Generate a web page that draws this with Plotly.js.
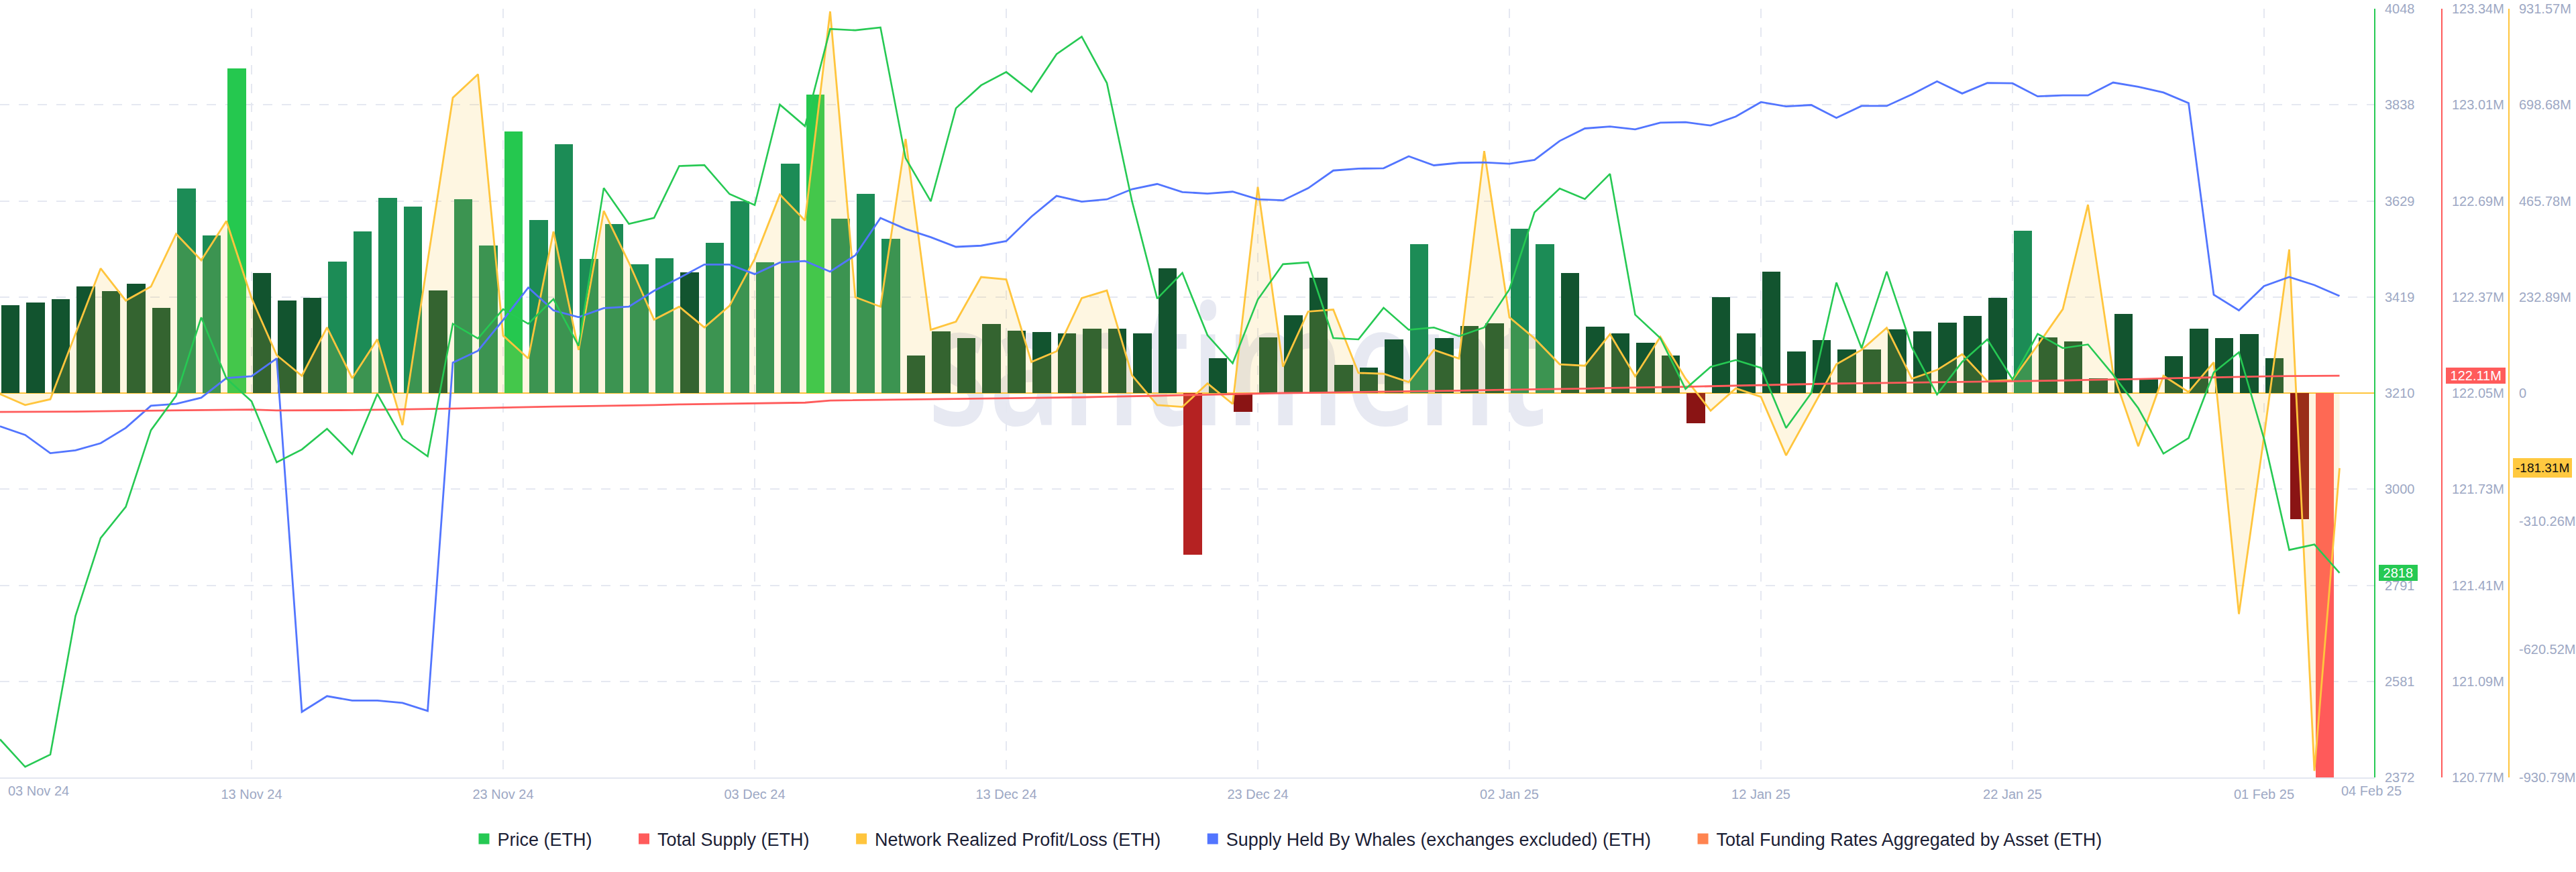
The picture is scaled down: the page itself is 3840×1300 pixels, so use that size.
<!DOCTYPE html>
<html>
<head>
<meta charset="utf-8">
<script src="https://cdn.plot.ly/plotly-3.0.1.min.js"></script>
<style>
  html, body { margin: 0; padding: 0; background: #ffffff; }
  #wm { position: absolute; left: 0; top: 0; z-index: 0; }
  #chart { position: absolute; left: 0; top: 0; width: 3840px; height: 1300px; z-index: 1; }
</style>
</head>
<body>
<svg id="wm" width="3840" height="1300" xmlns="http://www.w3.org/2000/svg">
  <text x="1383" y="634" font-family="Open Sans, Noto Sans, sans-serif" font-weight="600" font-size="250" fill="#e7e9f2" textLength="922" lengthAdjust="spacingAndGlyphs">santiment</text>
</svg>
<div id="chart"></div>
<script>
// ---------- DATA (daily, 03 Nov 2024 -> 04 Feb 2025) ----------
const startDay = [2024, 10, 3];   // 03 Nov 2024 (month is 0-based)
const dayCount = 94;

// Price (ETH), USD
const price = [
  2455, 2395, 2422, 2724, 2894, 2962, 3129, 3204, 3375, 3242,
  3192, 3059, 3087, 3132, 3077, 3208, 3111, 3072, 3361, 3329,
  3393, 3361, 3415, 3313, 3657, 3579, 3592, 3705, 3707, 3644,
  3620, 3839, 3792, 4004, 4001, 4007, 3722, 3628, 3831, 3881,
  3910, 3867, 3949, 3987, 3886, 3628, 3416, 3472, 3336, 3275,
  3414, 3491, 3495, 3330, 3327, 3396, 3348, 3353, 3334, 3353,
  3436, 3604, 3656, 3633, 3688, 3381, 3330, 3219, 3267, 3282,
  3265, 3134, 3210, 3451, 3308, 3475, 3310, 3207, 3278, 3327,
  3240, 3339, 3308, 3316, 3250, 3177, 3078, 3112, 3255, 3299,
  3110, 2868, 2880, 2818
];

// Total Supply (ETH), millions
const totalSupply = [
  121.992, 121.992, 121.993, 121.993, 121.994, 121.995, 121.996, 121.997, 121.998, 121.999,
  122.000, 121.997, 121.997, 121.997, 121.998, 121.999, 122.000, 122.002, 122.003, 122.005,
  122.007, 122.008, 122.010, 122.011, 122.012, 122.014, 122.015, 122.017, 122.018, 122.019,
  122.021, 122.022, 122.023, 122.030, 122.031, 122.032, 122.033, 122.034, 122.035, 122.036,
  122.037, 122.039, 122.040, 122.041, 122.043, 122.044, 122.046, 122.048, 122.050, 122.052,
  122.054, 122.055, 122.056, 122.057, 122.058, 122.059, 122.061, 122.062, 122.063, 122.065,
  122.066, 122.067, 122.069, 122.070, 122.072, 122.073, 122.075, 122.076, 122.078, 122.080,
  122.082, 122.084, 122.086, 122.087, 122.088, 122.089, 122.090, 122.091, 122.092, 122.093,
  122.094, 122.096, 122.097, 122.099, 122.100, 122.102, 122.104, 122.106, 122.108, 122.110,
  122.111, 122.112, 122.112, 122.113
];

// Network Realized Profit/Loss (ETH), millions
const nrpl = [
  -2, -28.6, -14.6, 143.2, 302.4, 224.5, 258.3, 386.0, 322.1, 417.3,
  230.4, 92.2, 42.3, 159.5, 36.4, 130.6, -77.4, 320.0, 715.8, 772.8,
  139.8, 84.1, 391.8, 105.0, 441.7, 316.4, 178.2, 209.7, 159.5, 211.8,
  325.6, 481.2, 418.5, 925.0, 232.7, 209.7, 616.2, 153.8, 173.5, 281.4,
  275.7, 75.9, 101.5, 230.4, 248.9, 43.4, -28.6, -33.2, 23.7, -26.0,
  499.8, 64.4, 197.9, 202.6, 49.3, 47.1, 27.2, 105.0, 84.1, 586.9,
  183.9, 132.8, 70.1, 66.7, 143.2, 41.1, 136.6, 35.8, -42.3, 12.0,
  -8.8, -150.5, -40.2, 70.1, 105.0, 158.4, 35.3, 56.3, 94.5, 29.4,
  31.9, 116.6, 203.7, 456.9, 48.8, -128.4, 42.3, 2.8, 74.8, -535.0,
  -104.0, 348.4, -915.0, -181.31
];

// Supply Held By Whales (exchanges excluded) (ETH), millions
const whales = [
  41.827, 41.782, 41.687, 41.702, 41.739, 41.819, 41.934, 41.944, 41.976, 42.078,
  42.088, 42.180, 40.341, 40.423, 40.400, 40.400, 40.388, 40.346, 42.158, 42.220,
  42.380, 42.549, 42.430, 42.395, 42.442, 42.450, 42.532, 42.599, 42.669, 42.669,
  42.619, 42.679, 42.687, 42.632, 42.717, 42.911, 42.854, 42.811, 42.761, 42.767,
  42.791, 42.918, 43.026, 42.996, 43.008, 43.061, 43.088, 43.046, 43.038, 43.048,
  43.008, 43.003, 43.066, 43.158, 43.168, 43.170, 43.232, 43.185, 43.198, 43.200,
  43.193, 43.213, 43.312, 43.377, 43.387, 43.372, 43.407, 43.410, 43.392, 43.439,
  43.514, 43.492, 43.499, 43.432, 43.494, 43.494, 43.554, 43.622, 43.559, 43.614,
  43.612, 43.544, 43.549, 43.549, 43.616, 43.594, 43.564, 43.509, 42.512, 42.430,
  42.557, 42.604, 42.562, 42.505
];

// Total Funding Rates Aggregated by Asset (ETH)
const funding = [
  0.0686, 0.0705, 0.0735, 0.0832, 0.0798, 0.0854, 0.0663, 0.1599, 0.1232, 0.2534,
  0.0937, 0.0723, 0.0746, 0.1026, 0.1262, 0.1524, 0.1456, 0.0802, 0.1513, 0.1153,
  0.2044, 0.1351, 0.1943, 0.1049, 0.1318, 0.1004, 0.1052, 0.0940, 0.1172, 0.1497,
  0.1019, 0.1793, 0.2328, 0.1363, 0.1554, 0.1206, 0.0293, 0.0480, 0.0431, 0.0540,
  0.0487, 0.0476, 0.0465, 0.0503, 0.0503, 0.0465, 0.0974, -0.1262, 0.0271, -0.0148,
  0.0435, 0.0607, 0.0899, 0.0218, 0.0199, 0.0417, 0.1164, 0.0428, 0.0525, 0.0544,
  0.1281, 0.1164, 0.0937, 0.0518, 0.0465, 0.0394, 0.0293, -0.0238, 0.0749, 0.0465,
  0.0948, 0.0327, 0.0413, 0.0342, 0.0342, 0.0499, 0.0480, 0.0551, 0.0604, 0.0746,
  0.1266, 0.0435, 0.0402, 0.0114, 0.0618, 0.0114, 0.0290, 0.0503, 0.0428, 0.0461,
  0.0274, -0.0984, -0.3000, null
];

// Axis ticks
const xTickDates = ['2024-11-03','2024-11-13','2024-11-23','2024-12-03','2024-12-13','2024-12-23','2025-01-02','2025-01-12','2025-01-22','2025-02-01'];
const xTickLabels = ['', '13 Nov 24', '23 Nov 24', '03 Dec 24', '13 Dec 24', '23 Dec 24', '02 Jan 25', '12 Jan 25', '22 Jan 25', '01 Feb 25'];
const xEdgeLabels = ['03 Nov 24', '04 Feb 25'];

const priceTickVals = [4048, 3838.5, 3629, 3419.5, 3210, 3000.5, 2791, 2581.5, 2372];
const priceTickText = ['4048', '3838', '3629', '3419', '3210', '3000', '2791', '2581', '2372'];
const supplyTickVals = [123.34, 123.01875, 122.6975, 122.37625, 122.055, 121.73375, 121.4125, 121.09125, 120.77];
const supplyTickText = ['123.34M', '123.01M', '122.69M', '122.37M', '122.05M', '121.73M', '121.41M', '121.09M', '120.77M'];
const nrplTickVals = [931.57, 698.6775, 465.785, 232.8925, 0, -310.2633, -620.5267, -930.79];
const nrplTickText = ['931.57M', '698.68M', '465.78M', '232.89M', '0', '-310.26M', '-620.52M', '-930.79M'];
const gridVals = [-0.3, -0.225, -0.15, -0.075, 0, 0.075, 0.15, 0.225, 0.3];

const seriesNames = ['Price (ETH)', 'Total Supply (ETH)', 'Network Realized Profit/Loss (ETH)', 'Supply Held By Whales (exchanges excluded) (ETH)', 'Total Funding Rates Aggregated by Asset (ETH)'];

// ---------- STYLE ----------
const C = {
  price: '#26c953', supply: '#ff5b5b', nrpl: '#ffc53d', whales: '#5275ff', funding: '#ff8450',
  grid: '#e5e8f1', tick: '#9da8c4', legendText: '#1b2035'
};
const DAY = 86400000;
const FONT = 'Liberation Sans, Arial, sans-serif';
const tickFont = { family: FONT, size: 20, color: C.tick };
const NB = '\u00a0';

const dates = [];
for (let i = 0; i < dayCount; i++) {
  const d = new Date(Date.UTC(startDay[0], startDay[1], startDay[2] + i));
  dates.push(d.toISOString().slice(0, 10));
}

const FUND_RANGE = 0.3;
function barColor(v) {
  if (v === null) return 'rgba(0,0,0,0)';
  const a = Math.abs(v) / FUND_RANGE;
  if (v >= 0) return a < 1/3 ? '#12542f' : (a < 2/3 ? '#1c8c56' : '#25c84f');
  return a < 1/3 ? '#8a1414' : (a < 2/3 ? '#b52222' : '#ff5a5a');
}

const traces = [
  { // funding bars (base axis)
    type: 'bar', x: dates, y: funding, xaxis: 'x', yaxis: 'y',
    offset: 0.04 * DAY, width: 0.745 * DAY,
    marker: { color: funding.map(barColor), line: { width: 0 } },
    showlegend: false, hoverinfo: 'skip'
  },
  { // NRPL
    type: 'scatter', mode: 'lines', x: dates, y: nrpl, xaxis: 'x', yaxis: 'y2',
    fill: 'tozeroy', fillcolor: 'rgba(249,196,55,0.15)',
    line: { color: C.nrpl, width: 2.8 }, showlegend: false, hoverinfo: 'skip'
  },
  { // whales
    type: 'scatter', mode: 'lines', x: dates, y: whales, xaxis: 'x', yaxis: 'y3',
    line: { color: C.whales, width: 2.8 }, showlegend: false, hoverinfo: 'skip'
  },
  { // total supply
    type: 'scatter', mode: 'lines', x: dates, y: totalSupply, xaxis: 'x', yaxis: 'y4',
    line: { color: C.supply, width: 2.8 }, showlegend: false, hoverinfo: 'skip'
  },
  { // price
    type: 'scatter', mode: 'lines', x: dates, y: price, xaxis: 'x', yaxis: 'y5',
    line: { color: C.price, width: 2.6 }, showlegend: false, hoverinfo: 'skip'
  }
];

// legend-only entries (square swatches)
const legendColors = [C.price, C.supply, C.nrpl, C.whales, C.funding];
const legendPad = NB.repeat(7);
seriesNames.forEach((n, i) => {
  traces.push({
    type: 'scatter', mode: 'markers', x: [null], y: [null], xaxis: 'x', yaxis: 'y',
    name: i < seriesNames.length - 1 ? n + legendPad : n,
    marker: { symbol: 'square', size: 16, color: legendColors[i] },
    showlegend: true, hoverinfo: 'skip'
  });
});

const W = 3840, PLOT_R = 3540;
const labelY = -0.0175;
const tagFont = (col, s) => ({ family: FONT, size: s || 20, color: col });

const layout = {
  width: 3840, height: 1300,
  margin: { l: 0, r: 0, t: 13, b: 141, pad: 0 },
  paper_bgcolor: 'rgba(0,0,0,0)', plot_bgcolor: 'rgba(0,0,0,0)',
  showlegend: true,
  legend: {
    orientation: 'h', x: 0.5, xanchor: 'center', y: -0.0803, yanchor: 'middle',
    font: { family: FONT, size: 27, color: C.legendText },
    itemclick: false, itemdoubleclick: false, bgcolor: 'rgba(0,0,0,0)'
  },
  xaxis: {
    type: 'date', domain: [0, PLOT_R / W],
    range: ['2024-11-03 00:00:00', '2025-02-05 09:36:00'],
    tickmode: 'array', tickvals: xTickDates, ticktext: xTickLabels,
    showgrid: true, gridcolor: C.grid, gridwidth: 2, griddash: '14px,14px',
    showline: true, linecolor: '#e3e7f0', linewidth: 2,
    zeroline: false, ticks: '', tickfont: tickFont, ticklabelstandoff: 6,
    automargin: false, fixedrange: true
  },
  yaxis: {
    range: [-FUND_RANGE, FUND_RANGE], tickmode: 'array', tickvals: gridVals,
    showticklabels: false, showgrid: true, gridcolor: C.grid, gridwidth: 2, griddash: '14px,14px',
    zeroline: false, showline: false, ticks: '', automargin: false, fixedrange: true
  },
  yaxis2: {
    overlaying: 'y', side: 'right', anchor: 'free', position: 3740 / W,
    range: [-930.79, 931.57], tickmode: 'array', tickvals: nrplTickVals, ticktext: nrplTickText,
    showgrid: false, zeroline: true, zerolinecolor: C.nrpl, zerolinewidth: 1.5,
    showline: true, linecolor: C.nrpl, linewidth: 2,
    ticks: '', tickfont: tickFont, ticklabelstandoff: 10, automargin: false, fixedrange: true
  },
  yaxis3: {
    overlaying: 'y', side: 'right', anchor: 'free', position: 0.5,
    range: [40, 44], visible: false, showgrid: false, zeroline: false, fixedrange: true
  },
  yaxis4: {
    overlaying: 'y', side: 'right', anchor: 'free', position: 3640 / W,
    range: [120.77, 123.34], tickmode: 'array', tickvals: supplyTickVals, ticktext: supplyTickText,
    showgrid: false, zeroline: false, showline: true, linecolor: C.supply, linewidth: 2,
    ticks: '', tickfont: tickFont, ticklabelstandoff: 10, automargin: false, fixedrange: true
  },
  yaxis5: {
    overlaying: 'y', side: 'right', anchor: 'free', position: PLOT_R / W,
    range: [2372, 4048], tickmode: 'array', tickvals: priceTickVals, ticktext: priceTickText,
    showgrid: false, zeroline: false, showline: true, linecolor: C.price, linewidth: 2,
    ticks: '', tickfont: tickFont, ticklabelstandoff: 10, automargin: false, fixedrange: true
  },
  annotations: [
    { text: xEdgeLabels[0], xref: 'paper', x: 0, xanchor: 'left', xshift: 10,
      yref: 'paper', y: labelY, yanchor: 'middle', showarrow: false, font: tickFont },
    { text: xEdgeLabels[1], xref: 'x', x: dates[dayCount - 1], xanchor: 'left',
      yref: 'paper', y: labelY, yanchor: 'middle', showarrow: false, font: tickFont },
    { text: NB + String(price[dayCount - 1]) + NB, xref: 'paper', x: 3546 / W, xanchor: 'left',
      yref: 'y5', y: price[dayCount - 1], yanchor: 'middle', showarrow: false,
      bgcolor: C.price, bordercolor: C.price, borderwidth: 1, borderpad: 0, font: tagFont('#ffffff') },
    { text: NB + totalSupply[dayCount - 1].toFixed(2) + 'M' + NB, xref: 'paper', x: 3646 / W, xanchor: 'left',
      yref: 'y4', y: totalSupply[dayCount - 1], yanchor: 'middle', showarrow: false,
      bgcolor: C.supply, bordercolor: C.supply, borderwidth: 1, borderpad: 0, font: tagFont('#ffffff') },
    { text: nrpl[dayCount - 1].toFixed(2) + 'M', xref: 'paper', x: 3746 / W, xanchor: 'left',
      yref: 'y2', y: nrpl[dayCount - 1], yanchor: 'middle', showarrow: false,
      bgcolor: '#ffc940', bordercolor: '#ffc940', borderwidth: 1, borderpad: 3, font: tagFont('#111111', 19) }
  ],
  bargap: 0
};

Plotly.newPlot('chart', traces, layout, { displayModeBar: false, responsive: false });
</script>
</body>
</html>
